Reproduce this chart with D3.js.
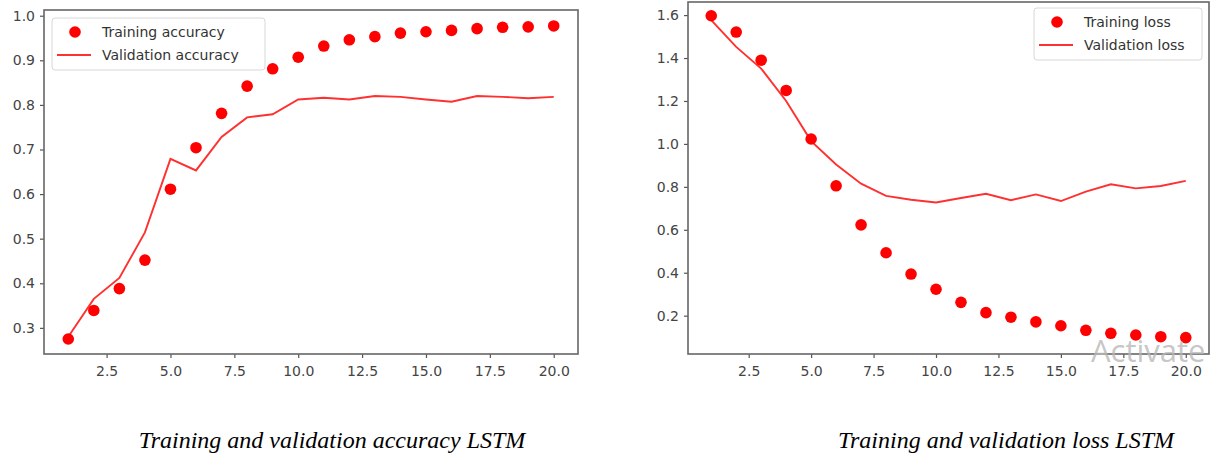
<!DOCTYPE html>
<html lang="en">
<head>
<meta charset="utf-8"/>
<title>LSTM training curves</title>
<script src="https://d3js.org/d3.v7.min.js"></script>
<style>
  body { margin: 0; background: #fff; }
  svg { display: block; }
</style>
</head>
<body>
<div id="chart"></div>
<script>
// data
var epochs = [1, 2, 3, 4, 5, 6, 7, 8, 9, 10, 11, 12, 13, 14, 15, 16, 17, 18, 19, 20];

var trainAcc = [0.275, 0.339, 0.388, 0.452, 0.611, 0.704, 0.781, 0.842, 0.881, 0.907,
                0.932, 0.946, 0.953, 0.961, 0.964, 0.967, 0.971, 0.974, 0.975, 0.977];
var valAcc = [0.28, 0.365, 0.412, 0.514, 0.679, 0.653, 0.728, 0.772, 0.779, 0.812,
              0.816, 0.812, 0.820, 0.818, 0.812, 0.807, 0.820, 0.818, 0.815, 0.818];

var trainLoss = [1.597, 1.521, 1.390, 1.249, 1.023, 0.805, 0.623, 0.493, 0.394, 0.323,
                 0.262, 0.214, 0.193, 0.171, 0.153, 0.132, 0.118, 0.110, 0.102, 0.098];
var valLoss = [1.577, 1.452, 1.351, 1.200, 1.013, 0.904, 0.815, 0.758, 0.740, 0.727,
               0.748, 0.768, 0.738, 0.765, 0.734, 0.778, 0.812, 0.793, 0.804, 0.828];

var xTicks = [2.5, 5.0, 7.5, 10.0, 12.5, 15.0, 17.5, 20.0];
var accTicks = [0.3, 0.4, 0.5, 0.6, 0.7, 0.8, 0.9, 1.0];
var lossTicks = [0.2, 0.4, 0.6, 0.8, 1.0, 1.2, 1.4, 1.6];

var accLabels = ["Training accuracy", "Validation accuracy"];
var lossLabels = ["Training loss", "Validation loss"];
var captions = ["Training and validation accuracy LSTM", "Training and validation loss LSTM"];

var w = 1225;
var h = 454;

var svg = d3.select("#chart")
            .append("svg")
            .attr("width", w)
            .attr("height", h)
            .style("background", "#fff");

function drawChart(cfg) {
    var xScale = d3.scaleLinear().domain(cfg.xDomain).range([cfg.left, cfg.right]);
    var yScale = d3.scaleLinear().domain(cfg.yDomain).range([cfg.bottom, cfg.top]);

    var g = svg.append("g");

    // x axis
    var xAxis = g.append("g")
                 .attr("transform", "translate(0," + cfg.bottom + ")")
                 .call(d3.axisBottom(xScale).tickValues(xTicks).tickFormat(d3.format(".1f"))
                        .tickSizeOuter(0).tickSize(4).tickPadding(8));
    // y axis
    var yAxis = g.append("g")
                 .attr("transform", "translate(" + cfg.left + ",0)")
                 .call(d3.axisLeft(yScale).tickValues(cfg.yTicks).tickFormat(d3.format(".1f"))
                        .tickSizeOuter(0).tickSize(4).tickPadding(5));

    [xAxis, yAxis].forEach(function (a) {
        a.select(".domain").remove();
        a.selectAll("line").attr("stroke", "#555").attr("stroke-width", 1.2);
        a.selectAll("text").attr("fill", "#444")
         .style("font-family", "'DejaVu Sans', sans-serif").style("font-size", "14px");
    });

    // frame
    g.append("rect")
     .attr("x", cfg.left).attr("y", cfg.top)
     .attr("width", cfg.right - cfg.left).attr("height", cfg.bottom - cfg.top)
     .attr("fill", "none").attr("stroke", "#666").attr("stroke-width", 1.6);

    // validation line
    var line = d3.line()
                 .x(function (d, i) { return xScale(epochs[i]); })
                 .y(function (d) { return yScale(d); });

    g.append("path")
     .datum(cfg.line)
     .attr("d", line)
     .attr("fill", "none")
     .attr("stroke", "#ff3030")
     .attr("stroke-width", 1.9);

    // training dots
    g.selectAll("circle.dot")
     .data(cfg.dots)
     .enter()
     .append("circle")
     .attr("class", "dot")
     .attr("cx", function (d, i) { return xScale(epochs[i]); })
     .attr("cy", function (d) { return yScale(d); })
     .attr("r", 5.8)
     .attr("fill", "#ff0000");

    // legend
    var lg = g.append("g").attr("transform", "translate(" + cfg.legend.x + "," + cfg.legend.y + ")");
    lg.append("rect")
      .attr("width", cfg.legend.w).attr("height", 52)
      .attr("rx", 3)
      .attr("fill", "#fff").attr("fill-opacity", 0.85)
      .attr("stroke", "#d8d8d8");
    lg.append("circle").attr("cx", 23).attr("cy", 14).attr("r", 5.8).attr("fill", "#ff0000");
    lg.append("line").attr("x1", 5).attr("x2", 39).attr("y1", 37).attr("y2", 37)
      .attr("stroke", "#ff3030").attr("stroke-width", 1.9);
    lg.selectAll("text")
      .data(cfg.labels)
      .enter()
      .append("text")
      .attr("x", 50)
      .attr("y", function (d, i) { return 19 + i * 23; })
      .attr("fill", "#333")
      .style("font-family", "'DejaVu Sans', sans-serif")
      .style("font-size", "14px")
      .text(function (d) { return d; });

    // caption (italic serif)
    svg.append("text")
       .attr("x", cfg.captionX).attr("y", 448)
       .attr("text-anchor", "middle")
       .attr("fill", "#000")
       .style("font-family", "'Liberation Serif', serif")
       .style("font-style", "italic")
       .style("font-size", "24px")
       .text(cfg.caption);
}

drawChart({
    left: 44, right: 578, top: 10, bottom: 354,
    xDomain: [0.05, 20.95], yDomain: [0.2414, 1.0128],
    yTicks: accTicks, dots: trainAcc, line: valAcc, labels: accLabels,
    legend: { x: 52, y: 18, w: 213 },
    caption: captions[0], captionX: 332
});

drawChart({
    left: 688, right: 1209, top: 2, bottom: 354,
    xDomain: [0.07, 20.93], yDomain: [0.0215, 1.661],
    yTicks: lossTicks, dots: trainLoss, line: valLoss, labels: lossLabels,
    legend: { x: 1034, y: 8, w: 168 },
    caption: captions[1], captionX: 1006
});

// faint OS watermark over the right plot
svg.append("text")
   .attr("x", 1091).attr("y", 362)
   .attr("fill", "#b8b8b8").attr("fill-opacity", 0.8)
   .style("font-family", "'Open Sans', sans-serif")
   .style("font-size", "31px")
   .text("Activate");
</script>
</body>
</html>
